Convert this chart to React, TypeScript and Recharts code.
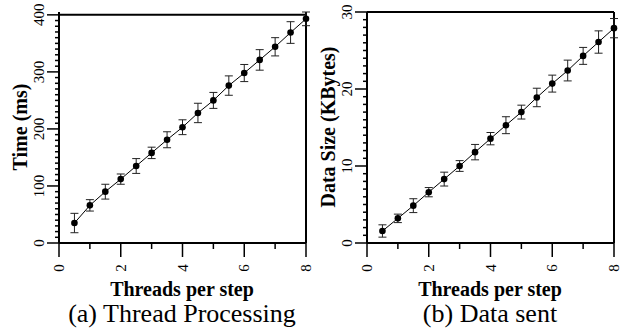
import React from "react"
import {
  LineChart,
  Line,
  XAxis,
  YAxis,
  ErrorBar,
  ReferenceLine,
} from "recharts"

const threads = [0.5, 1, 1.5, 2, 2.5, 3, 3.5, 4, 4.5, 5, 5.5, 6, 6.5, 7, 7.5, 8]
const procTime = [35, 66, 90, 112, 135, 158, 181, 203, 228, 250, 276, 298, 321, 344, 369, 393]
const procErr = [17, 10, 13, 9, 13, 10, 14, 13, 17, 14, 17, 15, 18, 16, 19, 12]
const dataSize = [1.56, 3.2, 4.85, 6.6, 8.3, 10.0, 11.8, 13.55, 15.3, 17.0, 18.9, 20.7, 22.4, 24.3, 26.1, 27.9]
const dataErr = [0.8, 0.55, 0.9, 0.6, 0.9, 0.7, 1.0, 0.8, 1.1, 0.9, 1.2, 1.1, 1.35, 1.1, 1.45, 1.25]

const xTicks = [0, 1, 2, 3, 4, 5, 6, 7, 8]
const xLabels = [0, 2, 4, 6, 8]
const timeLabels = [0, 100, 200, 300, 400]
const sizeLabels = [0, 10, 20, 30]
// minor ticks every 10 ms / every 1 KB
const timeTicks = Array.from({ length: 41 }, (_, i) => i * 10)
const sizeTicks = Array.from({ length: 31 }, (_, i) => i)

const FONT = "'Liberation Serif', 'Times New Roman', serif"

const procData = threads.map((t, i) => ({ t, v: procTime[i], err: procErr[i] }))
const sizeData = threads.map((t, i) => ({ t, v: dataSize[i], err: dataErr[i] }))

const XTick = ({ x, y, payload }) => {
  const major = xLabels.includes(payload.value)
  const ly = y + 25
  return (
    <g>
      <line x1={x} y1={y} x2={x} y2={y + (major ? 14 : 6)} stroke="#000" strokeWidth={1.5} />
      {major && (
        <text
          x={x}
          y={ly}
          transform={`rotate(-90 ${x} ${ly})`}
          textAnchor="middle"
          dominantBaseline="central"
          fontFamily={FONT}
          fontSize={15}
          fill="#000"
        >
          {payload.value}
        </text>
      )}
    </g>
  )
}

const makeYTick = (labels) => ({ x, y, payload }) => {
  const major = labels.includes(payload.value)
  const lx = x - 20
  return (
    <g>
      <line x1={x} y1={y} x2={x - (major ? 12 : 4)} y2={y} stroke="#000" strokeWidth={1.5} />
      {major && (
        <text
          x={lx}
          y={y}
          transform={`rotate(-90 ${lx} ${y})`}
          textAnchor="middle"
          dominantBaseline="central"
          fontFamily={FONT}
          fontSize={15}
          fill="#000"
        >
          {payload.value}
        </text>
      )}
    </g>
  )
}

const TimeTick = makeYTick(timeLabels)
const SizeTick = makeYTick(sizeLabels)

const textStyle = (left, top, size, bold) => ({
  position: "absolute",
  left,
  top,
  fontFamily: FONT,
  fontSize: size,
  fontWeight: bold ? "bold" : "normal",
  lineHeight: 1,
  whiteSpace: "nowrap",
  color: "#000",
})

const Panel = ({ data, yMax, yTicks, YTickComp, yWidth, width, right }) => (
  <LineChart
    width={width}
    height={329}
    data={data}
    margin={{ top: 12, right, bottom: 0, left: 0 }}
  >
    <XAxis
      dataKey="t"
      type="number"
      domain={[0, 8]}
      ticks={xTicks}
      interval={0}
      height={86}
      tickSize={0}
      tickMargin={0}
      tickLine={false}
      axisLine={{ stroke: "#000", strokeWidth: 2 }}
      tick={(p) => <XTick {...p} />}
    />
    <YAxis
      type="number"
      domain={[0, yMax]}
      ticks={yTicks}
      interval={0}
      width={yWidth}
      tickSize={0}
      tickMargin={0}
      tickLine={false}
      axisLine={{ stroke: "#000", strokeWidth: 2 }}
      tick={(p) => <YTickComp {...p} />}
    />
    <ReferenceLine y={yMax} stroke="#000" strokeWidth={2} />
    <ReferenceLine x={8} stroke="#000" strokeWidth={2} />
    <Line
      dataKey="v"
      stroke="#000"
      strokeWidth={1}
      dot={{ r: 3.3, fill: "#000", stroke: "#000", strokeWidth: 0 }}
      activeDot={false}
      isAnimationActive={false}
    >
      <ErrorBar dataKey="err" width={4} stroke="#222" strokeWidth={1} direction="y" />
    </Line>
  </LineChart>
)

export default function App() {
  return (
    <div
      style={{
        position: "absolute",
        left: 0,
        top: 0,
        width: 622,
        height: 329,
        background: "#fff",
        overflow: "hidden",
      }}
    >
      <div style={{ position: "absolute", left: 0, top: 0 }}>
        <Panel data={procData} yMax={400} yTicks={timeTicks} YTickComp={TimeTick} yWidth={59} width={320} right={14} />
      </div>
      <div style={{ position: "absolute", left: 311, top: 0 }}>
        <Panel data={sizeData} yMax={30} yTicks={sizeTicks} YTickComp={SizeTick} yWidth={56} width={311} right={8} />
      </div>

      <div style={{ ...textStyle(20, 127, 20, true), transform: "translate(-50%, -50%) rotate(-90deg)" }}>
        Time (ms)
      </div>
      <div style={{ ...textStyle(328, 127, 20, true), transform: "translate(-50%, -50%) rotate(-90deg)" }}>
        Data Size (KBytes)
      </div>

      <div style={{ ...textStyle(182, 279, 20, true), transform: "translateX(-50%)" }}>Threads per step</div>
      <div style={{ ...textStyle(490, 279, 20, true), transform: "translateX(-50%)" }}>Threads per step</div>

      <div style={{ ...textStyle(182, 301, 26, false), transform: "translateX(-50%)" }}>
        (a) Thread Processing
      </div>
      <div style={{ ...textStyle(490, 301, 26, false), transform: "translateX(-50%)" }}>
        (b) Data sent
      </div>
    </div>
  )
}
